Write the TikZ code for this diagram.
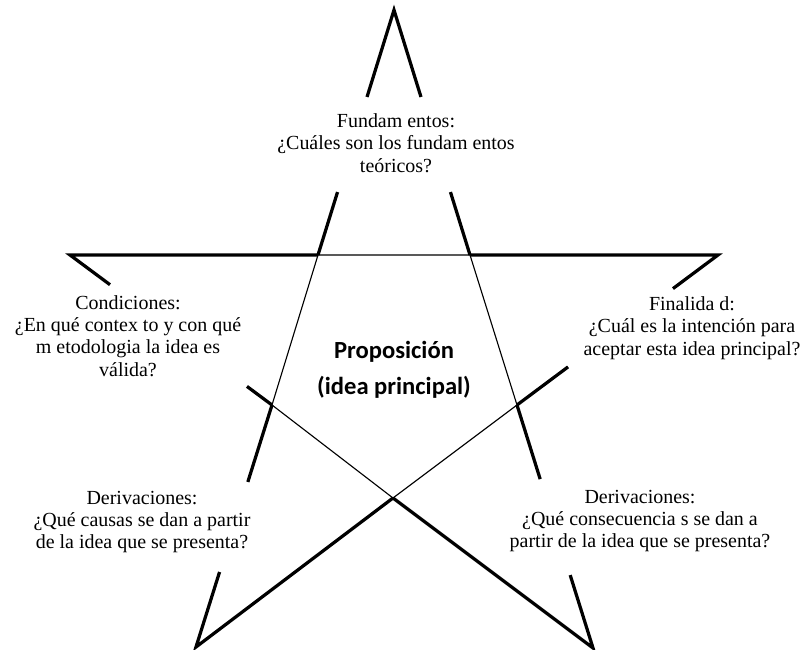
\documentclass[tikz,border=0pt]{standalone}
\usepackage{fontspec}
\setmainfont{Liberation Serif}
\newfontfamily\calibrifont{Carlito}
\usetikzlibrary{calc}

\begin{document}
\begin{tikzpicture}[
x=0.025cm, y=-0.025cm,
thickline/.style={line width=2.3pt, line join=miter},
thinline/.style={line width=0.8pt},
ptext/.style={align=center, font=\fontsize{14.2}{15.8}\selectfont, inner sep=0pt},
mainidea/.style={align=center, font=\calibrifont\bfseries\fontsize{17.5}{25.5}\selectfont, inner sep=0pt}
]
\useasboundingbox (0,0) rectangle (804,650);
% star tips
\coordinate (T) at (394,10);
\coordinate (L) at (70,255);
\coordinate (R) at (718,255);
\coordinate (BL) at (196,647);
\coordinate (BR) at (593,648);
% inner pentagon
\coordinate (itl) at (318,255);
\coordinate (itr) at (470,255);
\coordinate (il) at (272,405);
\coordinate (ir) at (517,405);
\coordinate (ib) at (393,498);

% thick outer parts, with gaps for the texts
\draw[thickline] ($(T)!0.355!(itl)$) -- (T) -- ($(T)!0.355!(itr)$);
\draw[thickline] ($(T)!0.743!(itl)$) -- (itl);
\draw[thickline] ($(T)!0.743!(itr)$) -- (itr);
\draw[thickline] (itl) -- (L) -- ($(L)!0.198!(il)$);
\draw[thickline] ($(L)!0.876!(il)$) -- (il);
\draw[thickline] (itr) -- (R) -- ($(R)!0.224!(ir)$);
\draw[thickline] ($(R)!0.746!(ir)$) -- (ir);
\draw[thickline] (il) -- ($(il)!0.318!(BL)$);
\draw[thickline] ($(il)!0.69!(BL)$) -- (BL) -- (ib);
\draw[thickline] (ir) -- ($(ir)!0.305!(BR)$);
\draw[thickline] ($(ir)!0.70!(BR)$) -- (BR) -- (ib);
% thin inner pentagon
\draw[thinline] (itl) -- (itr) -- (ir) -- (ib) -- (il) -- cycle;

% texts
\node[mainidea] (prop) at (394,370) {Proposición\\(idea principal)};
\node[ptext] (fund) at (396,143) {Fundam entos:\\¿Cuáles son los fundam entos\\teóricos?};
\node[ptext] (cond) at (128,336) {Condiciones:\\¿En qué contex to y con qué\\m etodologia la idea es\\válida?};
\node[ptext] (fin) at (692,328) {Finalida d:\\¿Cuál es la intención para\\aceptar esta idea principal?};
\node[ptext] (derl) at (142,522) {Derivaciones:\\¿Qué causas se dan a partir\\de la idea que se presenta?};
\node[ptext] (derr) at (640,521) {Derivaciones:\\¿Qué consecuencia s se dan a\\partir de la idea que se presenta?};
\end{tikzpicture}
\end{document}
